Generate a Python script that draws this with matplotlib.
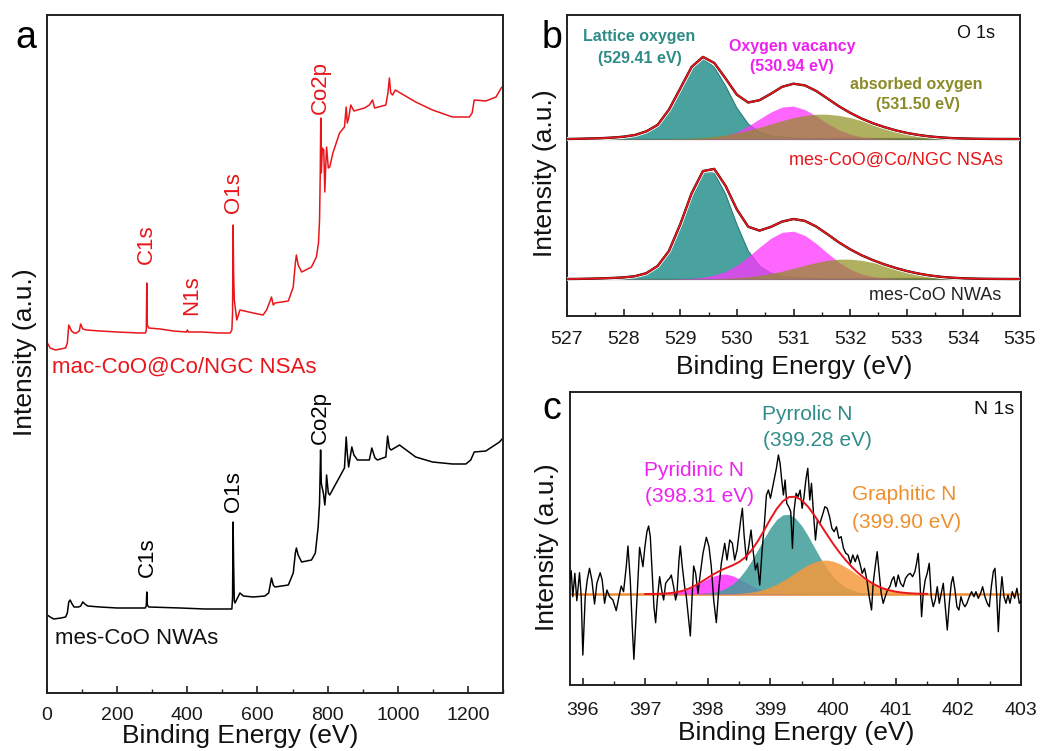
import matplotlib
matplotlib.use('Agg')
import matplotlib.pyplot as plt
from matplotlib.ticker import MultipleLocator

plt.rcParams['font.family'] = ['Liberation Sans', 'DejaVu Sans']

# ---------------- panel a : survey spectra ----------------
survey_red_E = [1, 9, 24, 53, 58, 62, 70, 77, 84, 92, 96, 102, 113, 151, 200, 265, 280, 283, 284.5, 286, 290,
                322, 360, 398, 400, 403, 440, 493, 522, 527, 529, 530.5, 532, 534, 541, 550, 588, 616, 626, 636,
                640, 645, 650, 688, 702, 708, 711, 716, 726, 754, 768, 774, 777, 779, 780.5, 782, 785, 789, 792,
                795, 797, 802, 806, 815, 834, 848, 853, 856, 860, 866, 875, 885, 905, 919, 928, 934, 966, 972,
                976, 980, 985, 993, 1051, 1099, 1156, 1204, 1212, 1218, 1251, 1280, 1295, 1300]
survey_red_I = [350, 345, 343, 345, 350, 368, 362, 360, 360, 362, 369, 364, 363, 362, 361, 360, 360, 362, 410, 368, 365,
                364, 362, 361, 363, 361, 361, 360, 360, 363, 380, 468, 420, 393, 373, 383, 380, 378, 383, 392,
                396, 388, 390, 392, 406, 430, 438, 428, 421, 426, 436, 450, 473, 520, 575, 520, 545, 543, 501,
                530, 546, 525, 526, 540, 560, 566, 586, 570, 575, 588, 582, 583, 585, 588, 593, 585, 588, 600,
                615, 600, 598, 603, 591, 583, 576, 576, 580, 593, 592, 596, 605, 607]

survey_blk_E = [1, 9, 19, 40, 53, 58, 62, 66, 70, 77, 90, 96, 102, 108, 116, 151, 200, 280, 283, 284.5, 286, 290,
                380, 450, 527, 529, 530.5, 532, 534, 536, 550, 560, 588, 621, 632, 640, 645, 650, 688, 702, 708,
                711, 716, 726, 754, 765, 773, 777, 780, 782, 784, 788, 792, 795, 797, 802, 806, 834, 848, 853,
                856, 860, 864, 869, 875, 885, 919, 926, 935, 942, 966, 971, 976, 981, 1005, 1051, 1099, 1156,
                1194, 1208, 1218, 1251, 1290, 1300]
survey_blk_I = [78, 76, 74, 75, 76, 80, 91, 93, 90, 86, 86, 87, 91, 89, 87, 86, 85, 85, 87, 101, 88, 86,
                85, 84, 84, 95, 171, 130, 92, 90, 100, 97, 96, 97, 100, 115, 108, 106, 108, 120, 140,
                145, 138, 131, 133, 140, 166, 190, 243, 210, 206, 200, 188, 200, 218, 200, 198, 216, 225, 256,
                240, 226, 235, 246, 238, 233, 233, 245, 235, 233, 236, 257, 245, 243, 248, 236, 231, 229,
                229, 233, 241, 242, 251, 255]

# ---------------- panel b : O 1s ----------------
o1s_E = [527.0, 527.2, 527.4, 527.6, 527.8, 528.0, 528.2, 528.4, 528.6, 528.8,
         529.0, 529.2, 529.4, 529.6, 529.8, 530.0, 530.2, 530.4, 530.6, 530.8,
         531.0, 531.2, 531.4, 531.6, 531.8, 532.0, 532.2, 532.4, 532.6, 532.8,
         533.0, 533.2, 533.4, 533.6, 533.8, 534.0, 534.2, 534.4, 534.6, 534.8, 535.0]
# mes-CoO@Co/NGC NSAs (upper)
lattice_up = [0, 0.2, 0.5, 0.8, 1.4, 2.3, 4.0, 7.5, 14, 29, 50, 71, 80, 72, 53, 31, 15, 7, 3.2, 1.8,
              1.0, 0.6, 0.3, 0.1, 0, 0, 0, 0, 0, 0, 0, 0, 0, 0, 0, 0, 0, 0, 0, 0, 0]
vacancy_up = [0, 0, 0, 0, 0, 0, 0, 0, 0, 0, 0.05, 0.14, 0.55, 1.5, 3.5, 7.2, 12.9, 20.1, 27.0, 32.0,
              32.9, 29.4, 23.0, 15.6, 9.2, 4.8, 2.1, 0.8, 0.3, 0.1, 0, 0, 0, 0, 0, 0, 0, 0, 0, 0, 0]
absorbed_up = [0, 0, 0, 0, 0, 0, 0, 0.06, 0.13, 0.26, 0.49, 0.9, 1.56, 2.59, 4.06, 6.07, 8.64, 11.68, 15.03, 18.37,
               21.4, 23.6, 24.8, 24.8, 23.6, 21.4, 18.4, 15.0, 11.7, 8.6, 6.1, 4.1, 2.6, 1.6, 0.9, 0.5, 0.25,
               0.12, 0.05, 0, 0]
envelope_up = [0, 0.2, 0.5, 0.8, 1.4, 2.3, 4.0, 7.6, 14.1, 29.3, 50.5, 72.0, 82.1, 76.1, 60.6, 44.3, 36.5, 38.8,
               45.2, 52.2, 55.3, 53.6, 48.1, 40.5, 32.8, 26.2, 20.5, 15.8, 12.0, 8.7, 6.1, 4.1, 2.6, 1.6, 0.9,
               0.5, 0.25, 0.12, 0.05, 0, 0]
# mes-CoO NWAs (lower)
lattice_lo = [0, 0.1, 0.3, 0.6, 1.0, 1.6, 2.8, 5.8, 13, 28.0, 54.5, 84.9, 106, 106, 84.9, 54.5, 28.0, 13, 5.8, 2.8,
              1.5, 0.8, 0.4, 0.2, 0, 0, 0, 0, 0, 0, 0, 0, 0, 0, 0, 0, 0, 0, 0, 0, 0]
vacancy_lo = [0, 0, 0, 0, 0, 0, 0, 0, 0, 0, 0.23, 0.66, 1.68, 3.79, 7.63, 13.75, 22.1, 31.8, 40.8, 46.7,
              47.8, 43.6, 35.6, 25.9, 16.8, 9.8, 5.1, 2.35, 0.97, 0.36, 0.12, 0, 0, 0, 0, 0, 0, 0, 0, 0, 0]
absorbed_lo = [0, 0, 0, 0, 0, 0, 0, 0, 0, 0, 0, 0.08, 0.17, 0.35, 0.68, 1.25, 2.17, 3.55, 5.46, 7.9,
               10.7, 13.7, 16.5, 18.7, 19.85, 19.85, 18.7, 16.5, 13.7, 10.7, 7.9, 5.46, 3.55, 2.17, 1.25, 0.68,
               0.35, 0.17, 0.08, 0, 0]
envelope_lo = [0, 0.1, 0.3, 0.6, 1.0, 1.6, 2.8, 5.8, 13, 28.0, 54.7, 85.6, 107.9, 110.1, 93.2, 69.5, 52.3, 48.4,
               52.1, 57.4, 60.0, 58.1, 52.5, 44.8, 36.7, 29.7, 23.8, 18.9, 14.7, 11.1, 8.0, 5.5, 3.6, 2.2, 1.3,
               0.7, 0.35, 0.17, 0.08, 0, 0]

# ---------------- panel c : N 1s ----------------
n1s_raw_E = [395.792, 395.819, 395.845, 395.877, 395.909, 395.952, 395.979, 396.005, 396.043, 396.075,
             396.112, 396.149, 396.192, 396.229, 396.282, 396.314, 396.352, 396.389, 396.432, 396.485,
             396.538, 396.581, 396.618, 396.655, 396.698, 396.725, 396.762, 396.794, 396.820, 396.858,
             396.884, 396.911, 396.938, 396.964, 396.996, 397.028, 397.055, 397.082, 397.113, 397.140,
             397.167, 397.193, 397.231, 397.263, 397.295, 397.327, 397.364, 397.391, 397.417, 397.454,
             397.486, 397.508, 397.540, 397.561, 397.593, 397.630, 397.657, 397.689, 397.721, 397.747,
             397.774, 397.806, 397.843, 397.881, 397.923, 397.977, 398.019, 398.056, 398.094, 398.136,
             398.174, 398.216,
             398.270, 398.307, 398.350, 398.392, 398.429, 398.467, 398.499, 398.525, 398.552, 398.579,
             398.616, 398.653, 398.690, 398.722, 398.760, 398.792, 398.829, 398.867, 398.904, 398.936,
             398.968, 399.000, 399.031, 399.063, 399.095, 399.127, 399.154, 399.180, 399.207, 399.234,
             399.260, 399.292, 399.324, 399.351, 399.378, 399.410, 399.442, 399.474, 399.506, 399.533,
             399.565, 399.596, 399.628, 399.655, 399.687, 399.719, 399.751, 399.789, 399.831, 399.869,
             399.906, 399.944, 399.981, 400.017, 400.054, 400.092, 400.129, 400.166, 400.204, 400.241,
             400.278, 400.315, 400.353, 400.390, 400.428, 400.465, 400.502, 400.540, 400.577, 400.614,
             400.640, 400.672, 400.704, 400.736, 400.768, 400.800, 400.832, 400.869, 400.907, 400.939,
             400.970, 401.002, 401.040, 401.077, 401.119, 401.157, 401.194, 401.231, 401.269, 401.306,
             401.333, 401.359, 401.386, 401.413, 401.439, 401.471, 401.503, 401.535, 401.567, 401.599,
             401.631, 401.663, 401.695, 401.727, 401.759, 401.791, 401.823, 401.855, 401.887, 401.913,
             401.946, 401.977, 402.009, 402.041, 402.073, 402.105, 402.137, 402.174, 402.211, 402.249,
             402.281, 402.318, 402.355, 402.387, 402.424, 402.462, 402.494, 402.526, 402.558, 402.584,
             402.611, 402.638, 402.664, 402.696, 402.728, 402.760, 402.792, 402.824, 402.861, 402.898,
             402.935, 402.973, 403.010]
n1s_raw_I = [101.7, 114.3, 88.3, 111.7, 84.3, 112.3, 88.3, 30.0, 88.3, 105.0,
             116.7, 105.0, 81.0, 101.7, 112.3, 105.0, 81.7, 95.0, 88.3, 85.0,
             74.3, 88.3, 99.0, 93.3, 118.3, 139.0, 105.0, 58.3, 25.7, 71.7,
             105.0, 137.7, 128.3, 118.3, 138.3, 153.3, 159.0, 148.3, 111.7, 78.3,
             62.3, 85.0, 108.3, 95.0, 85.0, 101.7, 105.0, 106.7, 110.0, 98.3,
             85.0, 91.7, 125.0, 139.0, 118.3, 98.3, 88.3, 68.3, 49.0, 85.0,
             119.0, 111.7, 91.7, 111.7, 131.7, 147.7, 138.3, 118.3, 85.0, 62.3,
             95.0, 121.7,
             141.7, 125.0, 145.0, 141.7, 125.0, 135.0, 151.7, 165.0, 176.7, 150.0,
             125.0, 138.3, 155.0, 135.0, 115.0, 121.7, 100.0, 135.0, 161.7, 190.0,
             195.0, 186.7, 196.7, 206.7, 216.7, 230.0, 221.7, 205.0, 190.0, 205.0,
             181.7, 178.3, 173.3, 136.7, 175.0, 191.7, 188.3, 195.0, 176.7, 186.7,
             205.0, 216.7, 185.0, 201.7, 171.7, 145.0, 165.0, 161.7, 170.0, 178.3,
             176.7, 168.3, 156.7, 153.3, 158.3, 146.7, 148.3, 136.7, 131.7, 130.0,
             121.7, 130.0, 123.3, 130.0, 121.7, 111.7, 116.7, 105.0, 88.3, 75.0,
             101.7, 118.3, 133.3, 111.7, 91.7, 81.7, 88.3, 95.0, 98.3, 105.0,
             108.3, 98.3, 110.0, 101.7, 98.3, 106.7, 110.0, 111.7, 108.3, 113.3,
             121.7, 131.7, 105.0, 68.3, 91.7, 105.0, 111.7, 121.7, 88.3, 78.3,
             85.0, 98.3, 81.7, 91.7, 101.7, 78.3, 55.0, 81.7, 101.7, 108.3,
             95.0, 78.3, 75.0, 88.3, 81.7, 78.3, 81.7, 88.3, 93.3, 88.3,
             93.3, 86.7, 91.7, 98.3, 88.3, 81.7, 78.3, 98.3, 113.3, 116.7,
             91.7, 53.3, 85.0, 108.3, 88.3, 81.7, 90.0, 81.7, 93.3, 86.7,
             96.7, 81.7, 85.0]

n1s_E = [397.0, 397.1, 397.2, 397.3, 397.4, 397.5, 397.6, 397.7, 397.8, 397.9,
         398.0, 398.1, 398.2, 398.3, 398.4, 398.5, 398.6, 398.7, 398.8, 398.9,
         399.0, 399.1, 399.2, 399.3, 399.4, 399.5, 399.6, 399.7, 399.8, 399.9,
         400.0, 400.1, 400.2, 400.3, 400.4, 400.5, 400.6, 400.7, 400.8, 400.9,
         401.0, 401.1, 401.2, 401.3, 401.4, 401.5]
pyridinic = [0.02, 0.07, 0.17, 0.40, 0.87, 1.75, 3.21, 5.40, 8.32, 11.76,
             15.26, 18.14, 19.79, 19.79, 18.14, 15.26, 11.76, 8.32, 5.40, 3.21,
             1.75, 0.87, 0.40, 0.17, 0.07, 0.02, 0, 0, 0, 0,
             0, 0, 0, 0, 0, 0, 0, 0, 0, 0, 0, 0, 0, 0, 0, 0]
pyrrolic = [0, 0, 0, 0, 0, 0, 0, 0.08, 0.2, 0.47,
            0.98, 1.92, 3.55, 6.22, 10.29, 16.14, 23.91, 33.52, 44.49, 55.88,
            66.32, 74.52, 79.2, 79.65, 75.77, 68.2, 58.1, 46.77, 35.6, 25.7,
            17.5, 11.3, 6.9, 3.99, 2.18, 1.13, 0.55, 0.25, 0, 0,
            0, 0, 0, 0, 0, 0]
graphitic = [0, 0, 0, 0, 0, 0, 0, 0, 0, 0,
             0, 0, 0.09, 0.18, 0.36, 0.66, 1.15, 1.92, 3.08, 4.73,
             6.96, 9.81, 13.27, 17.2, 21.4, 25.5, 29.2, 32.0, 33.65, 33.97,
             32.8, 30.4, 27.05, 23.06, 18.86, 14.79, 11.12, 8.02, 5.55, 3.68,
             2.34, 1.42, 0.83, 0.46, 0.25, 0.12]
n1s_envelope = [0.02, 0.07, 0.17, 0.40, 0.87, 1.75, 3.21, 5.48, 8.52, 12.23,
                16.24, 20.06, 23.43, 26.19, 28.79, 32.06, 36.82, 43.76, 52.97, 63.82,
                75.03, 85.2, 92.87, 97.02, 97.24, 93.72, 87.3, 78.77, 69.25, 59.67,
                50.3, 41.7, 33.95, 27.05, 21.04, 15.92, 11.67, 8.27, 5.55, 3.68,
                2.34, 1.42, 0.83, 0.46, 0.25, 0.12]

# ---------------- styling ----------------
RED = '#e8161b'
TEAL = '#3f9d99'
TEAL_TXT = '#2f8c88'
MAG = '#ff33ff'
MAG_TXT = '#ee22ee'
OLIVE = '#8f8f1e'
OLIVE_TXT = '#8a8a26'
ORANGE = '#f59a3c'
ORANGE_TXT = '#ee9030'
SPINE = '#222222'

W, H = 1048, 751
fig = plt.figure(figsize=(W / 100, H / 100), dpi=100)


def ax_px(l, t, r, b):
    return fig.add_axes([l / W, 1 - b / H, (r - l) / W, (b - t) / H])


def style(ax, major, minor, pad):
    ax.set_yticks([])
    ax.xaxis.set_major_locator(MultipleLocator(major))
    ax.xaxis.set_minor_locator(MultipleLocator(minor))
    ax.tick_params(axis='x', which='major', direction='in', length=5, width=1.2,
                   labelsize=14, pad=pad, colors=SPINE, labelcolor='#1a1a1a')
    ax.tick_params(axis='x', which='minor', direction='in', length=3, width=1.0, colors=SPINE)
    for s in ax.spines.values():
        s.set_linewidth(1.4)
        s.set_color(SPINE)


# panel a
axa = ax_px(47, 15, 503, 693)
axa.plot(survey_red_E, survey_red_I, color=RED, lw=1.1)
axa.plot(survey_blk_E, survey_blk_I, color='black', lw=1.1)
axa.set_xlim(0, 1300)
axa.set_ylim(0, 678)
style(axa, 200, 100, 10)
for txt, x, y, c in [('C1s', 284, 449, RED), ('N1s', 412, 398, RED), ('O1s', 533, 500, RED),
                     ('Co2p', 778, 606, RED), ('C1s', 287, 136, 'black'), ('O1s', 531, 201, 'black'),
                     ('Co2p', 778, 275, 'black')]:
    axa.text(x, y, txt, rotation=90, ha='center', va='center', fontsize=16, color=c)
axa.text(15, 326, 'mac-CoO@Co/NGC NSAs', ha='left', va='center', fontsize=16, color=RED)
axa.text(23, 54, 'mes-CoO NWAs', ha='left', va='center', fontsize=16, color='#111111')

# panel b
axb = ax_px(567, 15, 1020, 316)
for base, lat, vac, ab, env in [(177, lattice_up, vacancy_up, absorbed_up, envelope_up),
                                (37, lattice_lo, vacancy_lo, absorbed_lo, envelope_lo)]:
    axb.plot([527, 535], [base, base], color='#7a6058', lw=1.6, zorder=1)
    axb.fill_between(o1s_E, base, [base + v for v in lat], color=TEAL, alpha=0.95, lw=0, zorder=2)
    axb.plot(o1s_E, [base + v for v in lat], color='#2d7f7b', lw=0.8, zorder=2)
    axb.fill_between(o1s_E, base, [base + v for v in vac], color=MAG, alpha=0.75, lw=0, zorder=3)
    axb.fill_between(o1s_E, base, [base + v for v in ab], color=OLIVE, alpha=0.7, lw=0, zorder=4)
    axb.plot(o1s_E, [base + v for v in env], color='white', lw=3.0, zorder=5)
    axb.plot(o1s_E, [base + v for v in env], color='black', lw=1.7, zorder=6)
    axb.plot(o1s_E, [base + v for v in env], color=RED, lw=1.3, zorder=7)
axb.set_xlim(527, 535)
axb.set_ylim(0, 301)
style(axb, 1, 0.5, 11)
axb.text(528.27, 279, 'Lattice oxygen', ha='center', va='center', fontsize=11.5, color=TEAL_TXT, weight='bold')
axb.text(528.28, 258, '(529.41 eV)', ha='center', va='center', fontsize=11.5, color=TEAL_TXT, weight='bold')
axb.text(530.98, 269, 'Oxygen vacancy', ha='center', va='center', fontsize=11.5, color=MAG_TXT, weight='bold')
axb.text(530.97, 249, '(530.94 eV)', ha='center', va='center', fontsize=11.5, color=MAG_TXT, weight='bold')
axb.text(533.17, 231, 'absorbed oxygen', ha='center', va='center', fontsize=11.5, color=OLIVE_TXT, weight='bold')
axb.text(533.2, 211, '(531.50 eV)', ha='center', va='center', fontsize=11.5, color=OLIVE_TXT, weight='bold')
axb.text(534.22, 283, 'O 1s', ha='center', va='center', fontsize=13, color='#111111')
axb.text(532.81, 156, 'mes-CoO@Co/NGC NSAs', ha='center', va='center', fontsize=13, color=RED)
axb.text(533.5, 21, 'mes-CoO NWAs', ha='center', va='center', fontsize=13, color='#222222')

# panel c
axc = ax_px(570, 392, 1021, 685)
base_c = 91
axc.plot([395.8, 403], [base_c, base_c], color='#f08a30', lw=1.8, zorder=1)
axc.fill_between(n1s_E, base_c, [base_c + v for v in pyridinic], color=MAG, alpha=0.85, lw=0, zorder=2)
axc.fill_between(n1s_E, base_c, [base_c + v for v in pyrrolic], color=TEAL, alpha=0.85, lw=0, zorder=3)
axc.fill_between(n1s_E, base_c, [base_c + v for v in graphitic], color=ORANGE, alpha=0.85, lw=0, zorder=4)
axc.plot(n1s_raw_E, n1s_raw_I, color='black', lw=1.0, zorder=5)
axc.plot(n1s_E, [base_c + v for v in n1s_envelope], color=RED, lw=1.4, zorder=6)
axc.set_xlim(395.8, 403)
axc.set_ylim(0, 293)
style(axc, 1, 0.5, 12)
axc.text(399.59, 271, 'Pyrrolic N', ha='center', va='center', fontsize=15, color=TEAL_TXT)
axc.text(399.75, 245, '(399.28 eV)', ha='center', va='center', fontsize=15, color=TEAL_TXT)
axc.text(397.78, 215, 'Pyridinic N', ha='center', va='center', fontsize=15, color=MAG_TXT)
axc.text(397.87, 188, '(398.31 eV)', ha='center', va='center', fontsize=15, color=MAG_TXT)
axc.text(401.14, 190, 'Graphitic N', ha='center', va='center', fontsize=15, color=ORANGE_TXT)
axc.text(401.18, 162, '(399.90 eV)', ha='center', va='center', fontsize=15, color=ORANGE_TXT)
axc.text(402.57, 275, 'N 1s', ha='center', va='center', fontsize=14, color='#111111')

# axis labels & panel letters
lab = dict(fontsize=19, color='#111111')
fig.text(240 / W, 1 - 736 / H, 'Binding Energy (eV)', ha='center', va='center', **lab)
fig.text(794 / W, 1 - 367 / H, 'Binding Energy (eV)', ha='center', va='center', **lab)
fig.text(796 / W, 1 - 733 / H, 'Binding Energy (eV)', ha='center', va='center', **lab)
fig.text(25 / W, 1 - 352 / H, 'Intensity (a.u.)', rotation=90, ha='center', va='center', **lab)
fig.text(545 / W, 1 - 173 / H, 'Intensity (a.u.)', rotation=90, ha='center', va='center', **lab)
fig.text(547 / W, 1 - 547 / H, 'Intensity (a.u.)', rotation=90, ha='center', va='center', **lab)
fig.text(26 / W, 1 - 48 / H, 'a', ha='center', va='baseline', fontsize=27, color='black')
fig.text(552 / W, 1 - 48 / H, 'b', ha='center', va='baseline', fontsize=27, color='black')
fig.text(552 / W, 1 - 419 / H, 'c', ha='center', va='baseline', fontsize=27, color='black')

fig.savefig('out.png', dpi=100)
